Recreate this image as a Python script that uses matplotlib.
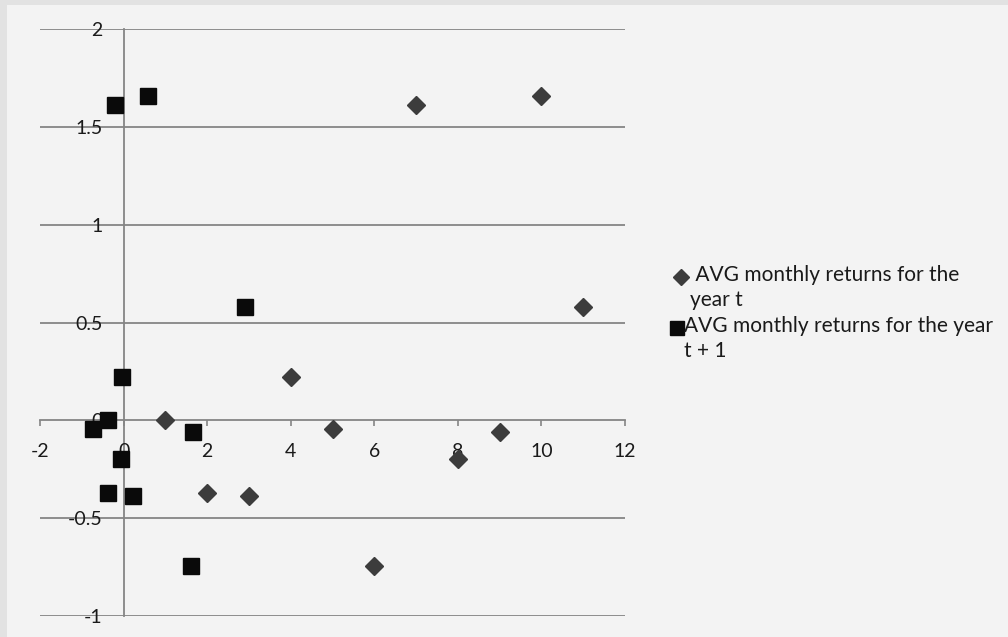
import matplotlib
matplotlib.use("Agg")
import matplotlib.pyplot as plt
from matplotlib.lines import Line2D
from matplotlib.patches import Rectangle

plt.rcParams["font.family"] = ["Lato", "DejaVu Sans"]
plt.rcParams["axes.unicode_minus"] = False

# year index and average monthly return for year t
years = [1, 2, 3, 4, 5, 6, 7, 8, 9, 10, 11]
ret_t = [0.0, -0.372, -0.388, 0.219, -0.043, -0.742, 1.61, -0.197, -0.061, 1.658, 0.578]

# returns for year t+1 plotted against their paired x values
x_next = [-0.72, -0.38, 0.22, -0.04, -0.38, 1.62, -0.20, -0.05, 1.66, 0.59, 2.90]
ret_next = [-0.043, -0.372, -0.388, 0.219, 0.0, -0.742, 1.61, -0.197, -0.061, 1.658, 0.578]

xticks = [-2, 0, 2, 4, 6, 8, 10, 12]
yticks = [-1, -0.5, 0, 0.5, 1, 1.5, 2]
ytick_labels = ["-1", "-0.5", "0", "0.5", "1", "1.5", "2"]

series_labels = [" AVG monthly returns for the\nyear t",
                 "AVG monthly returns for the year\nt + 1"]

W, H = 1008, 637
fig = plt.figure(figsize=(W / 100, H / 100), dpi=100)
fig.patch.set_facecolor("#e2e2e2")
fig.add_artist(Rectangle((7 / W, 0), 1, 1 - 5 / H, transform=fig.transFigure,
                         facecolor="#f3f3f3", edgecolor="none", zorder=-10))

ax = fig.add_axes([40 / W, 1 - 616 / H, (625 - 40) / W, (616 - 29) / H])
ax.set_facecolor("none")

ax.set_xlim(-2, 12)
ax.set_ylim(-1, 2)

grid_c = "#858585"
for y in yticks:
    if y != 0:
        ax.axhline(y, color=grid_c, lw=1.3, zorder=1)

for side in ("top", "right"):
    ax.spines[side].set_visible(False)
for side in ("left", "bottom"):
    ax.spines[side].set_position(("data", 0))
    ax.spines[side].set_color(grid_c)
    ax.spines[side].set_linewidth(1.3)
    ax.spines[side].set_zorder(1)

ax.set_xticks(xticks)
ax.set_xticklabels([str(v) for v in xticks])
ax.set_yticks(yticks)
ax.set_yticklabels(ytick_labels)
ax.tick_params(axis="x", length=4.5, width=1.2, color=grid_c, pad=11.5,
               labelsize=14, labelcolor="#1a1a1a")
ax.tick_params(axis="y", length=0, pad=15, labelsize=14, labelcolor="#1a1a1a")
for lab in ax.get_xticklabels() + ax.get_yticklabels():
    lab.set_zorder(2)

ax.plot(years, ret_t, linestyle="none", marker="D", markersize=9,
        color="#3c3c3c", zorder=5, clip_on=False)
ax.plot(x_next, ret_next, linestyle="none", marker="s", markersize=12,
        color="#0a0a0a", zorder=6, clip_on=False)

# legend: swatch beside the first line of each wrapped label
legend_rows = [
    dict(mx=681, my=277, marker="D", ms=8.5, color="#3c3c3c", tx=690, label=series_labels[0]),
    dict(mx=677, my=328, marker="s", ms=10, color="#0a0a0a", tx=684, label=series_labels[1]),
]
for row in legend_rows:
    fig.add_artist(Line2D([row["mx"] / W], [1 - row["my"] / H], transform=fig.transFigure,
                          marker=row["marker"], markersize=row["ms"], color=row["color"],
                          linestyle="none"))
    fig.text(row["tx"] / W, 1 - (row["my"] - 12) / H, row["label"], ha="left", va="top",
             fontsize=15, linespacing=1.3, color="#1a1a1a")

fig.savefig("out.png", dpi=100, facecolor=fig.get_facecolor())
